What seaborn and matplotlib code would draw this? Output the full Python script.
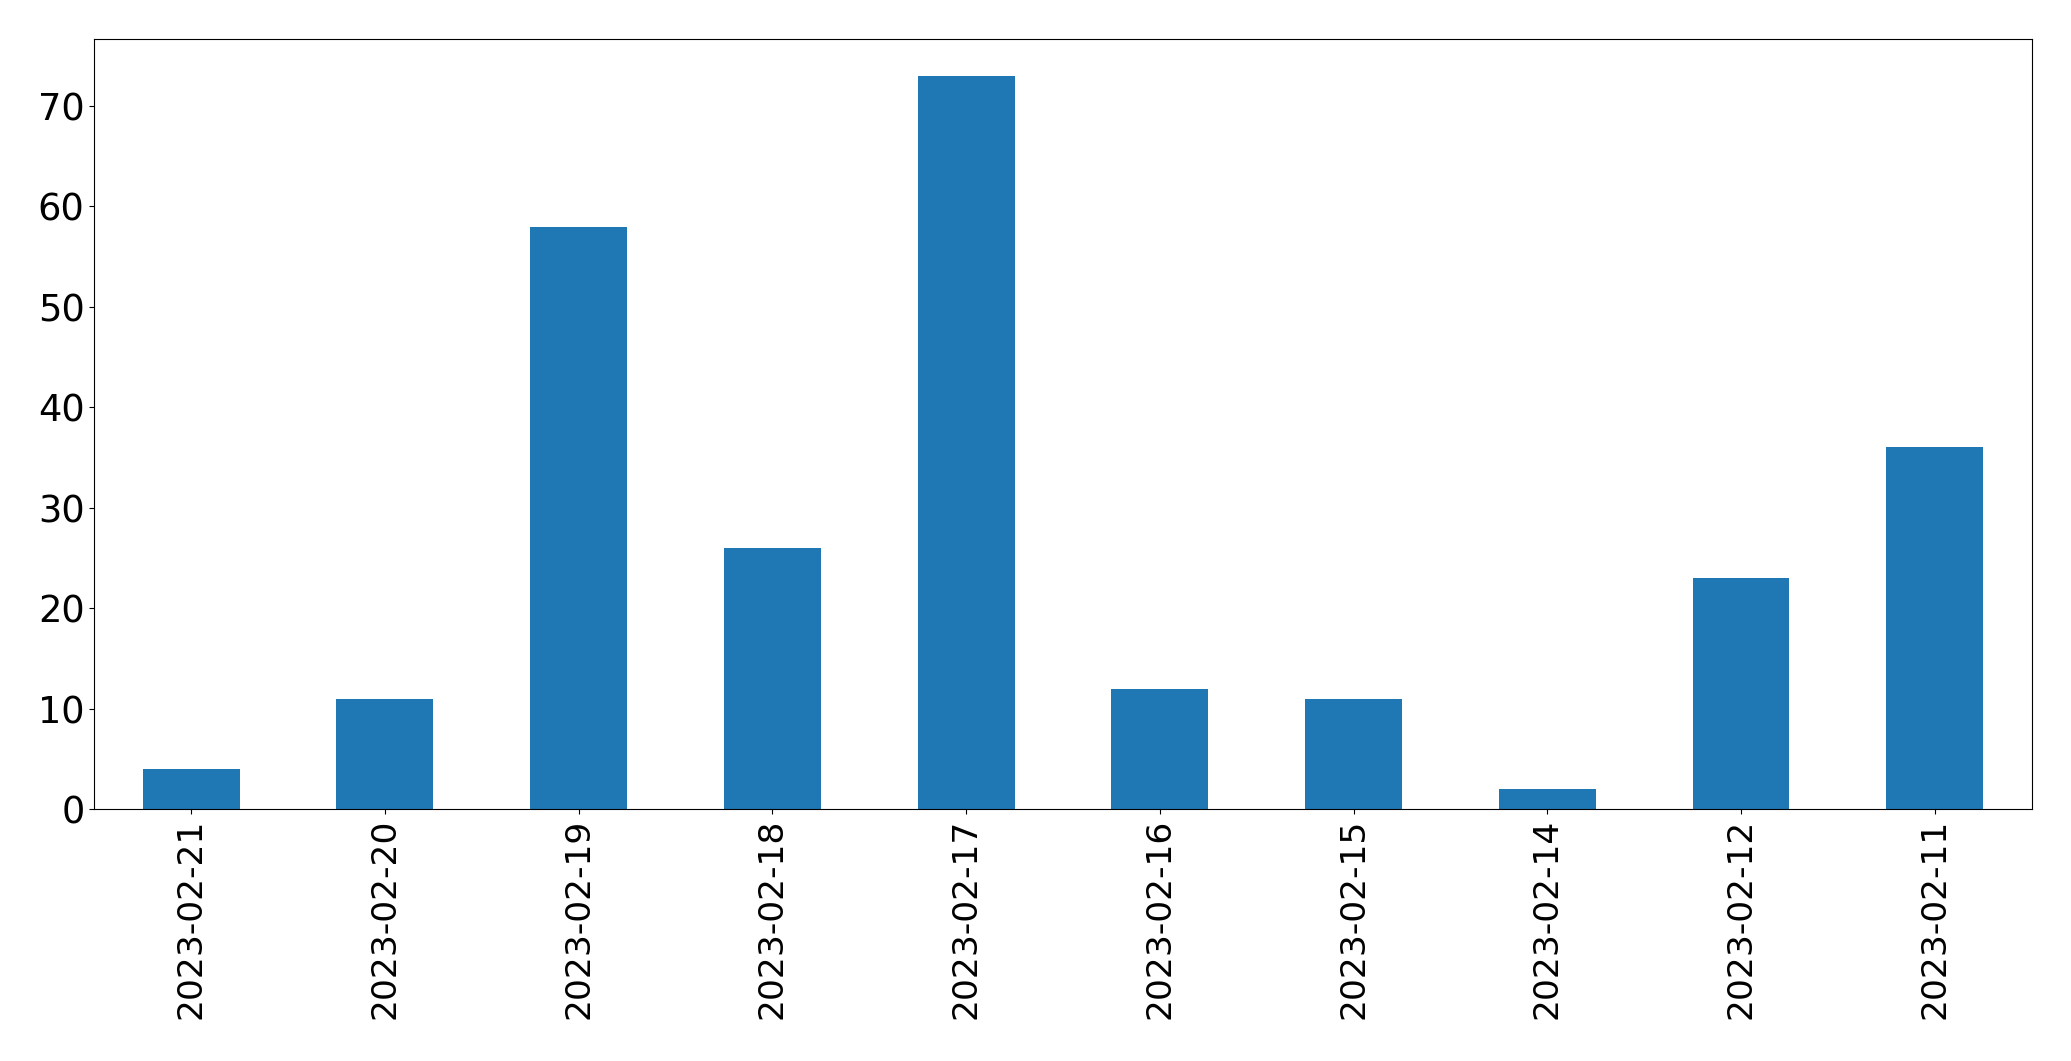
import matplotlib
matplotlib.use("Agg")
import matplotlib.pyplot as plt
import seaborn as sns
import pandas as pd

dates = ["2023-02-21", "2023-02-20", "2023-02-19", "2023-02-18", "2023-02-17",
         "2023-02-16", "2023-02-15", "2023-02-14", "2023-02-12", "2023-02-11"]
counts = [4, 11, 58, 26, 73, 12, 11, 2, 23, 36]

df = pd.DataFrame({"date": dates, "count": counts})

fig = plt.figure(figsize=(20.71, 10.61), dpi=100)
ax = fig.add_axes([0.04553, 0.2375, 0.98100 - 0.04553, 0.9630 - 0.2375])
sns.barplot(data=df, x="date", y="count", order=dates, color="#1f77b4",
            saturation=1, width=0.5, linewidth=0, ax=ax)
ax.set_xlim(-0.5, len(dates) - 0.5)
ax.set_xlabel("")
ax.set_ylabel("")
ax.tick_params(axis="x", labelsize=24.8)
ax.tick_params(axis="y", labelsize=26.5)
plt.setp(ax.get_xticklabels(), rotation=90)
for s in ax.spines.values():
    s.set_visible(True)
    s.set_color("black")
fig.savefig("out.png", dpi=100)
